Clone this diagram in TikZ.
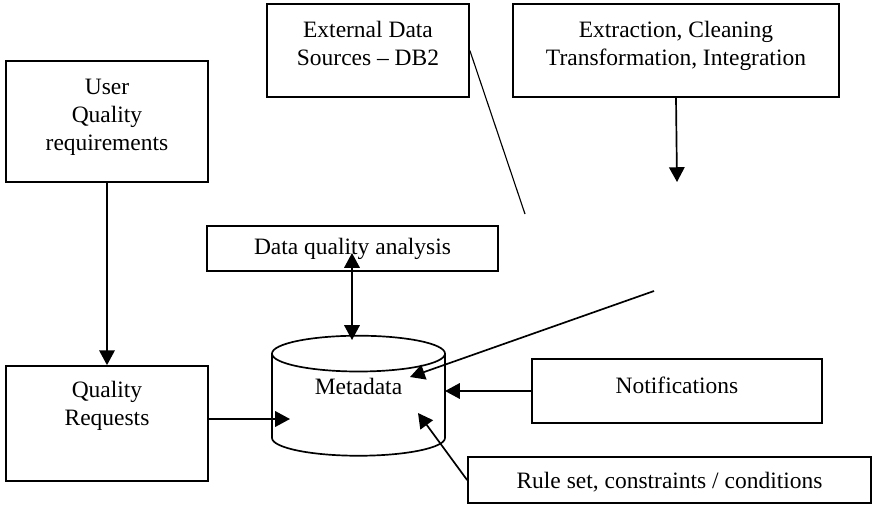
\documentclass[tikz,border=0pt]{standalone}
\usepackage{fontspec}
\setmainfont{Liberation Serif}
\usepackage{tikz}
\usetikzlibrary{shapes.geometric, arrows.meta}
\tikzstyle{block} = [rectangle, draw=black, line width=1.2pt, align=center, inner sep=2pt]
\tikzstyle{store} = [cylinder, shape border rotate=90, aspect=0.37, draw=black, line width=1.2pt, minimum width=4.325cm, minimum height=3cm]
\tikzstyle{arrow} = [line width=1.2pt, -{Triangle[length=10.5pt,width=11pt]}]
\tikzstyle{twoway} = [line width=1.2pt, {Triangle[length=10.5pt,width=11pt]}-{Triangle[length=10.5pt,width=11pt]}]
\tikzstyle{plain} = [line width=0.8pt]

\begin{document}
\begin{tikzpicture}[x=0.025cm, y=-0.025cm, font=\fontsize{16.7}{19.9}\selectfont]
        \useasboundingbox (0,0) rectangle (874,507);
        % Nodes
        \node (user) [block, minimum width=5.05cm, minimum height=3.025cm, text depth=9pt] at (107,121.5) {User\\Quality\\requirements};
        \node (qreq) [block, minimum width=5.05cm, minimum height=2.875cm, text depth=29pt] at (107,423.5) {Quality\\Requests};
        \node (ext) [block, minimum width=5.05cm, minimum height=2.325cm, text depth=10pt] at (368,50.5) {External Data\\Sources -- DB2};
        \node (etl) [block, minimum width=8.15cm, minimum height=2.325cm, text depth=9.5pt] at (676,50.5) {Extraction, Cleaning\\Transformation, Integration};
        \node (dqa) [block, minimum width=7.275cm, minimum height=1.125cm] at (352.5,248.5) {Data quality analysis};
        \node (meta) [store, label={[name=metalabel, yshift=0.55cm]center:Metadata}] at (358.5,408) {\phantom{Metadata}};
        \node (notif) [block, minimum width=7.25cm, minimum height=1.6cm, text depth=8pt] at (677,391) {Notifications};
        \node (rules) [block, minimum width=10.075cm, minimum height=1.15cm, text height=14.5pt] at (669.5,480) {Rule set, constraints / conditions};

        % Loose ends
        \coordinate (extend) at (525,214);
        \coordinate (etlend) at (677,182);
        \coordinate (dqatop) at (352,253);
        \coordinate (metatop) at (352,340);
        \coordinate (qreqend) at (290,419);
        \coordinate (notifend) at (445,391);
        \coordinate (rulesend) at (418,413);
        \coordinate (loadstart) at (654,291);
        \coordinate (loadend) at (410,377);

        % Arrows
        \draw [arrow] (user) -- (qreq);
        \draw [plain] (ext.east) -- (extend);
        \draw [arrow] (etl.south) -- (etlend);
        \draw [twoway] (dqatop) -- (metatop);
        \draw [arrow] (qreq.east |- qreqend) -- (qreqend);
        \draw [arrow] (notif.west |- notifend) -- (notifend);
        \draw [arrow] (rules.west) -- (rulesend);
        \draw [arrow] (loadstart) -- (loadend);
    \end{tikzpicture}
\end{document}
